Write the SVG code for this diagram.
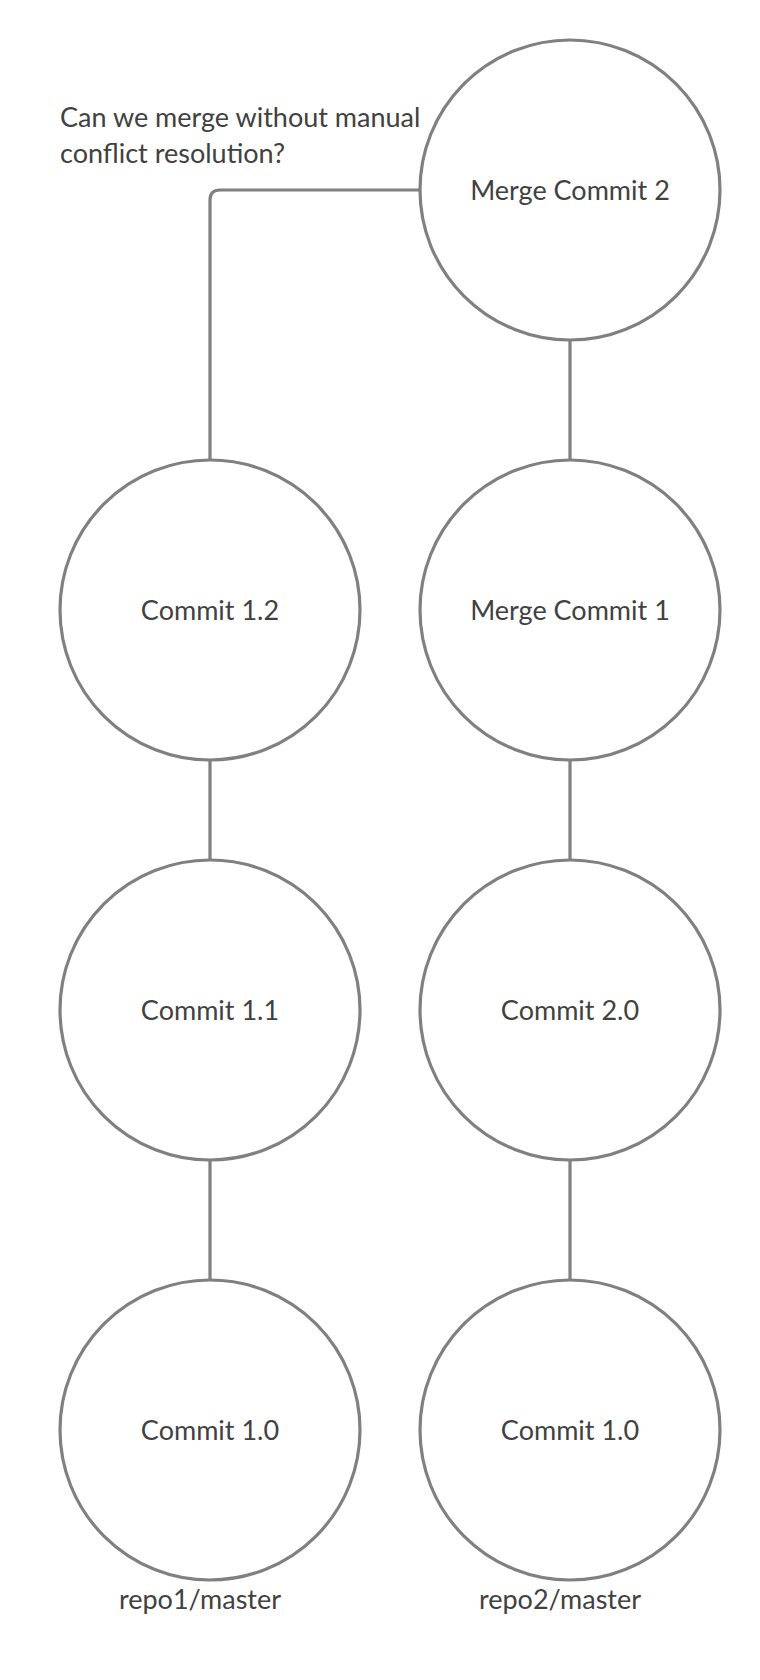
<svg xmlns="http://www.w3.org/2000/svg" width="760" height="1680" viewBox="0 0 760 1680">
<style>
.node circle{fill:#ffffff;stroke:#808080;stroke-width:3.2}
.lbl{font-family:Lato,"Liberation Sans",sans-serif;font-size:27px;fill:#414141;text-anchor:middle}
.note{font-family:Lato,"Liberation Sans",sans-serif;font-size:27px;fill:#414141}
#connectors path{fill:none;stroke:#808080;stroke-width:3.2}
</style>
<rect width="760" height="1680" fill="#ffffff"/>
<g id="connectors">
<path d="M420,190 H220 Q210,190 210,200 V460"/>
<path d="M570,340 V460"/>
<path d="M210,760 V860"/>
<path d="M570,760 V860"/>
<path d="M210,1160 V1280"/>
<path d="M570,1160 V1280"/>
</g>
<g id="merge2" class="node"><circle cx="570" cy="190" r="150"/><text class="lbl" x="570" y="200">Merge Commit 2</text></g>
<g id="c12" class="node"><circle cx="210" cy="610" r="150"/><text class="lbl" x="210" y="620">Commit 1.2</text></g>
<g id="merge1" class="node"><circle cx="570" cy="610" r="150"/><text class="lbl" x="570" y="620">Merge Commit 1</text></g>
<g id="c11" class="node"><circle cx="210" cy="1010" r="150"/><text class="lbl" x="210" y="1020">Commit 1.1</text></g>
<g id="c20" class="node"><circle cx="570" cy="1010" r="150"/><text class="lbl" x="570" y="1020">Commit 2.0</text></g>
<g id="c10a" class="node"><circle cx="210" cy="1430" r="150"/><text class="lbl" x="210" y="1440">Commit 1.0</text></g>
<g id="c10b" class="node"><circle cx="570" cy="1430" r="150"/><text class="lbl" x="570" y="1440">Commit 1.0</text></g>
<text class="lbl" x="200" y="1609">repo1/master</text>
<text class="lbl" x="560" y="1609">repo2/master</text>
<text class="note" x="60" y="127">Can we merge without manual</text>
<text class="note" x="60" y="163">conflict resolution?</text>
</svg>
